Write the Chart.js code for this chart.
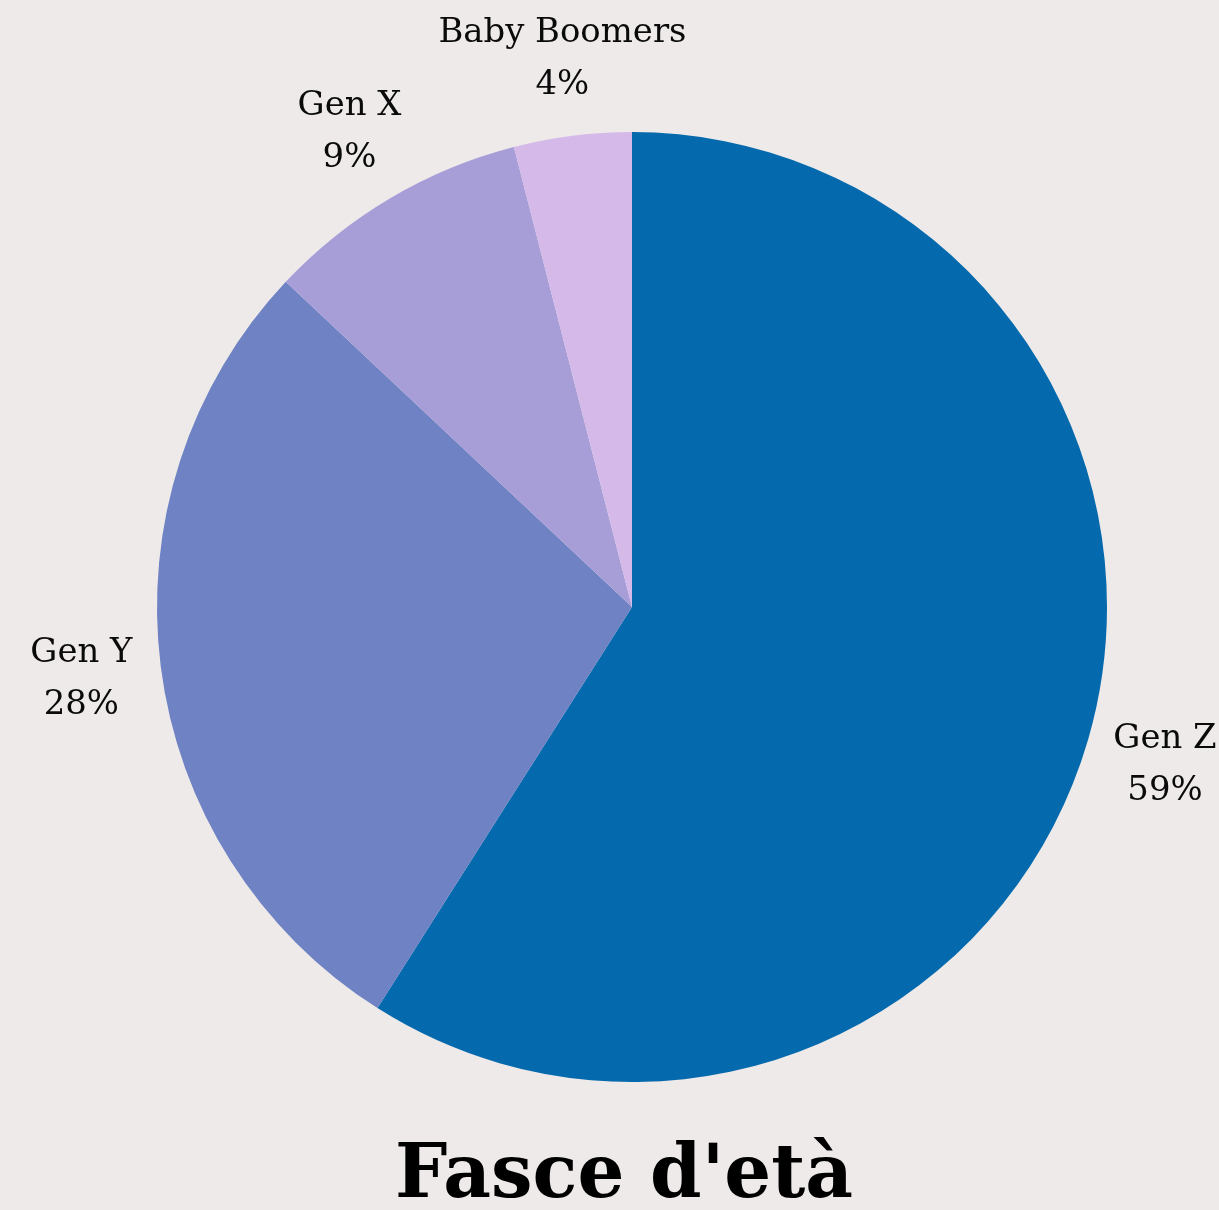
<!DOCTYPE html>
<html>
<head>
<meta charset="utf-8">
<script src="https://cdn.jsdelivr.net/npm/chart.js@4/dist/chart.umd.min.js"></script>
<style>
  html, body { margin: 0; padding: 0; background: #EEEAE9; }
  #wrap { width: 1219px; height: 1210px; position: relative; }
</style>
</head>
<body>
<div id="wrap"><canvas id="c"></canvas></div>
<script>
const categories = ['Gen Z', 'Gen Y', 'Gen X', 'Baby Boomers'];
const shares = [59, 28, 9, 4];
const sliceColors = ['#0569AD', '#6E82C4', '#A79ED8', '#D5BAE9'];
const chartTitle = "Fasce d'età";

const serif = '"DejaVu Serif", "Liberation Serif", serif';

// Draws text squeezed horizontally so it spans a given width
function fitText(ctx, text, x, y, scaleX) {
  ctx.save();
  ctx.translate(x, y);
  ctx.scale(scaleX, 1);
  ctx.fillText(text, 0, 0);
  ctx.restore();
}

const outerLabels = {
  id: 'outerLabels',
  afterDatasetsDraw(chart) {
    const ctx = chart.ctx;
    const meta = chart.getDatasetMeta(0);
    ctx.save();
    ctx.fillStyle = '#0a0a0a';
    ctx.textAlign = 'center';
    ctx.textBaseline = 'middle';
    ctx.font = '34px ' + serif;
    const sx = 248 / ctx.measureText('Baby Boomers').width;
    meta.data.forEach((arc, i) => {
      const p = arc.getProps(['x', 'y', 'startAngle', 'endAngle', 'outerRadius'], true);
      const mid = (p.startAngle + p.endAngle) / 2;
      const r = p.outerRadius + 80;
      const cx = p.x + Math.cos(mid) * r;
      const cy = p.y + Math.sin(mid) * r;
      fitText(ctx, categories[i], cx, cy - 23, sx);
      fitText(ctx, shares[i] + '%', cx, cy + 29, sx);
    });
    ctx.restore();
  }
};

const bottomTitle = {
  id: 'bottomTitle',
  afterDraw(chart) {
    const ctx = chart.ctx;
    ctx.save();
    ctx.fillStyle = '#000000';
    ctx.textAlign = 'center';
    ctx.textBaseline = 'alphabetic';
    ctx.font = 'bold 74px ' + serif;
    const sx = 458 / ctx.measureText(chartTitle).width;
    fitText(ctx, chartTitle, 624, 1197, sx);
    ctx.restore();
  }
};

new Chart(document.getElementById('c'), {
  type: 'pie',
  data: {
    labels: categories,
    datasets: [{
      data: shares,
      backgroundColor: sliceColors,
      borderWidth: 0
    }]
  },
  options: {
    responsive: true,
    maintainAspectRatio: false,
    animation: false,
    layout: { padding: { left: 157, right: 112, top: 132, bottom: 128 } },
    plugins: {
      legend: { display: false },
      tooltip: { enabled: false },
      title: { display: false }
    }
  },
  plugins: [outerLabels, bottomTitle]
});
</script>
</body>
</html>
